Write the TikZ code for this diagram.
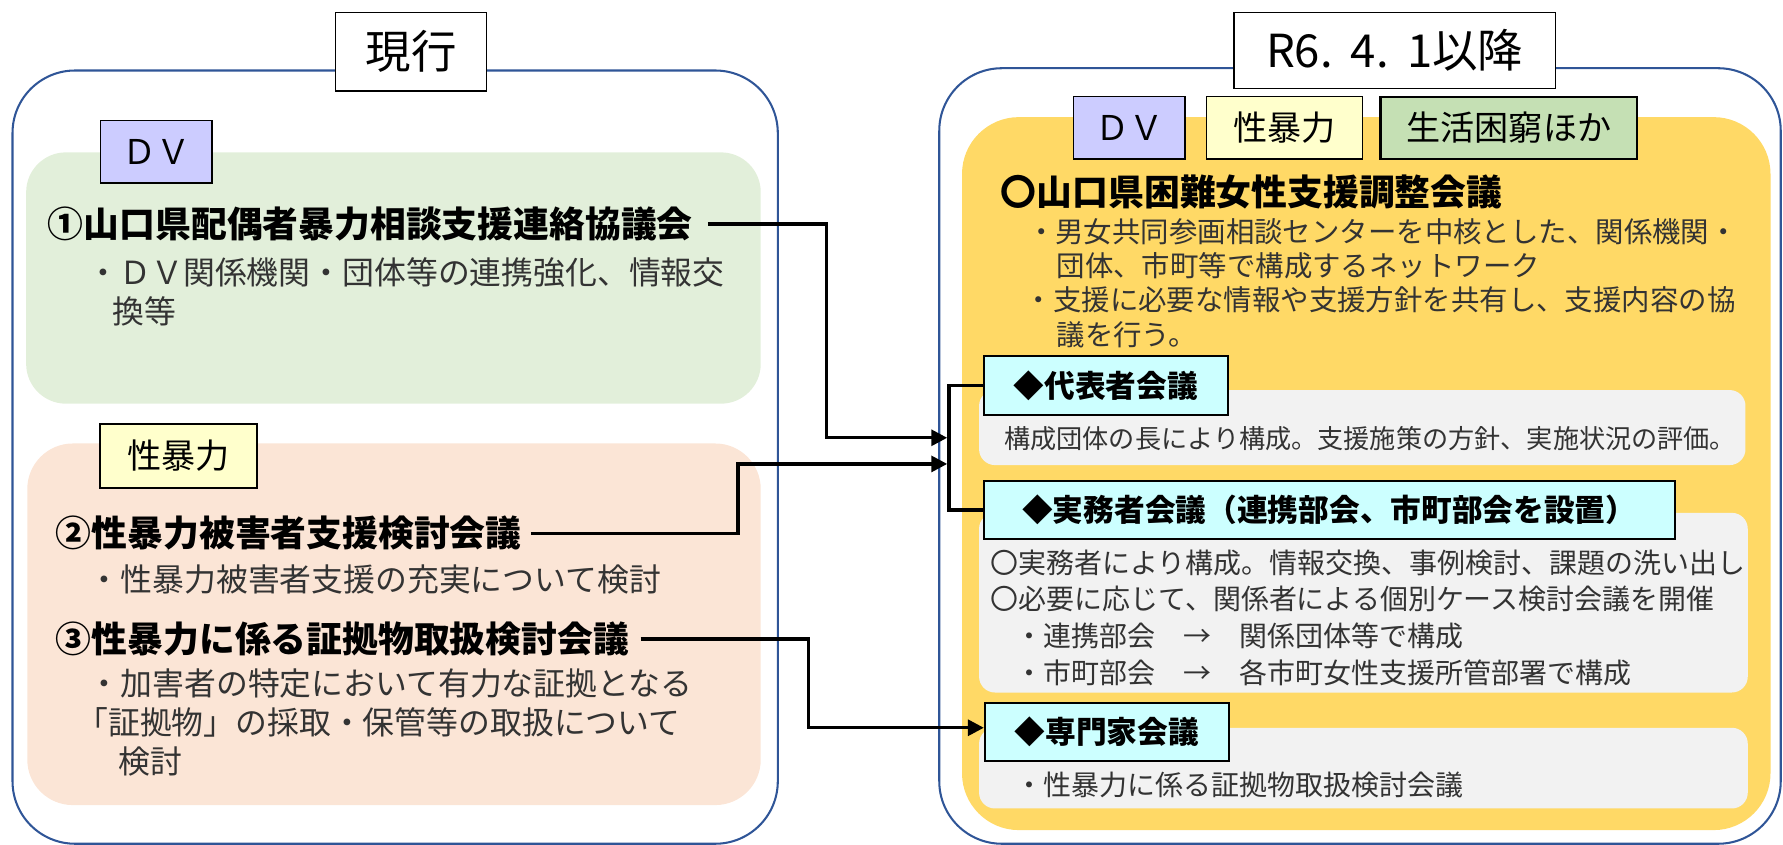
\documentclass[tikz,border=0pt]{standalone}
\usepackage{fontspec}
\setmainfont{Noto Sans CJK JP}
\usetikzlibrary{arrows.meta,calc}
\definecolor{outerblue}{HTML}{2F5597}
\definecolor{dvbg}{HTML}{E2EFDA}
\definecolor{sbbg}{HTML}{FBE5D6}
\definecolor{ylbg}{HTML}{FFD966}
\definecolor{graybg}{HTML}{F2F2F2}
\definecolor{tagdv}{HTML}{CCCCFF}
\definecolor{tagsb}{HTML}{FFFFCC}
\definecolor{taglife}{HTML}{C5E0B4}
\definecolor{tagcyan}{HTML}{CCFFFF}
\definecolor{txtgray}{HTML}{333333}
\begin{document}
\begin{tikzpicture}[x=1pt,y=-1pt,
  panel/.style={draw=outerblue,line width=1.8pt,rounded corners=55pt,inner sep=0pt},
  area/.style={rounded corners=#1,inner sep=0pt},
  ttl/.style={font=\fontsize{40}{44}\selectfont,draw=black,line width=1.3pt,fill=white,inner sep=0pt},
  tagbox/.style={font=\fontsize{30}{34}\selectfont,draw=black,line width=1.3pt,inner sep=0pt},
  mtag/.style={font=\bfseries\fontsize{27}{30}\selectfont,draw=black,line width=1.6pt,fill=tagcyan,inner sep=0pt},
  head/.style={font=\bfseries\fontsize{31.5}{36}\selectfont,anchor=west,inner sep=0pt},
  bodyL/.style={font=\fontsize{28}{32}\selectfont,text=txtgray,anchor=west,inner sep=0pt},
  bodyR/.style={font=\fontsize{#1}{#1}\selectfont,text=txtgray,anchor=west,inner sep=0pt},
  conn/.style={line width=2.9pt},
  arr/.style={conn,-{Triangle[length=14pt,width=14pt]}}
]
\useasboundingbox (0,0) rectangle (1568,743);

% panels
\node[panel,minimum width=673pt,minimum height=680pt] (Lpanel) at (347.5,402) {};
\node[panel,minimum width=740pt,minimum height=682pt] (Rpanel) at (1196,401) {};

% coloured areas
\node[area=35pt,fill=dvbg,minimum width=646pt,minimum height=221pt] (dvarea) at (346,244.5) {};
\node[area=40pt,fill=sbbg,minimum width=645pt,minimum height=318pt] (sbarea) at (346.5,549) {};
\node[area=50pt,fill=ylbg,minimum width=711pt,minimum height=627pt] (ylarea) at (1201.5,416.5) {};

% titles
\node[ttl,minimum width=133pt,minimum height=69pt] (genko) at (361.5,45.5) {現行};
\node[ttl,minimum width=283pt,minimum height=67pt] (ikou) at (1226.5,44.5) {R6.\hspace{0.4em}4.\hspace{0.4em}1以降};

% tags left
\node[tagbox,fill=tagdv,minimum width=98pt,minimum height=55pt] (tagDVl) at (137.5,133.5) {ＤＶ};
\node[tagbox,fill=tagsb,minimum width=138pt,minimum height=56pt] (tagSBl) at (157,401) {性暴力};

% tags right
\node[tagbox,fill=tagdv,minimum width=98pt,minimum height=55pt] (tagDVr) at (993,112.5) {ＤＶ};
\node[tagbox,fill=tagsb,minimum width=137pt,minimum height=55pt] (tagSBr) at (1129.5,112.5) {性暴力};
\node[tagbox,fill=taglife,line width=1.8pt,minimum width=226pt,minimum height=55pt] (tagLife) at (1327,112.5) {生活困窮ほか};

% left texts
\node[head] (t1) at (42,197) {①山口県配偶者暴力相談支援連絡協議会};
\node[bodyL] (b1a) at (77,240) {・ＤＶ関係機関・団体等の連携強化、情報交};
\node[bodyL] (b1b) at (99,274) {換等};
\node[head] (t2) at (49,469) {②性暴力被害者支援検討会議};
\node[bodyL] (b2) at (78,510) {・性暴力被害者支援の充実について検討};
\node[head] (t3) at (49,562) {③性暴力に係る証拠物取扱検討会議};
\node[bodyL] (b3a) at (78,601) {・加害者の特定において有力な証拠となる};
\node[bodyL] (b3b) at (67,635) {「証拠物」の採取・保管等の取扱について};
\node[bodyL] (b3c) at (104,670) {検討};

% right texts
\node[head] (t4) at (880,169) {〇山口県困難女性支援調整会議};
\node[bodyR=25] (r1) at (903,204) {・男女共同参画相談センターを中核とした、関係機関・};
\node[bodyR=25] (r2) at (929,234) {団体、市町等で構成するネットワーク};
\node[bodyR=25] (r3) at (901,264) {・支援に必要な情報や支援方針を共有し、支援内容の協};
\node[bodyR=25] (r4) at (929,294) {議を行う。};

% gray boxes
\node[area=14pt,fill=graybg,minimum width=674pt,minimum height=66pt] (g1) at (1198,376) {};
\node[area=14pt,fill=graybg,minimum width=676pt,minimum height=158pt] (g2) at (1199,530) {};
\node[area=14pt,fill=graybg,minimum width=676pt,minimum height=71pt] (g3) at (1199,675.5) {};

% meeting tags
\node[mtag,minimum width=215pt,minimum height=52pt] (daihyo) at (972.5,339) {◆代表者会議};
\node[mtag,minimum width=608pt,minimum height=51pt] (jitsumu) at (1169,448.5) {◆実務者会議（連携部会、市町部会を設置）};
\node[mtag,minimum width=215pt,minimum height=51pt] (senmon) at (973.5,643.5) {◆専門家会議};

\node[bodyR=23] (d1) at (883,386) {構成団体の長により構成。支援施策の方針、実施状況の評価。};
\node[bodyR=24.6] (j1) at (871,495) {〇実務者により構成。情報交換、事例検討、課題の洗い出し};
\node[bodyR=24.6] (j2) at (871,527) {〇必要に応じて、関係者による個別ケース検討会議を開催};
\node[bodyR=24.6] (j3) at (893,559) {・連携部会　→　関係団体等で構成};
\node[bodyR=24.6] (j4) at (893,592) {・市町部会　→　各市町女性支援所管部署で構成};
\node[bodyR=24.6] (s1) at (893,690) {・性暴力に係る証拠物取扱検討会議};

% connectors
\coordinate (hubA) at (833,385);
\coordinate (hubB) at (833,408);
\draw[arr] ([xshift=13pt]t1.east) -| (727,385) -- (hubA);
\draw[arr] ([xshift=8pt]t2.east) -| (649,408) -- (hubB);
\draw[arr] ([xshift=10pt]t3.east) -| ($(senmon.west)+(-154,-3.5)$) -- ($(senmon.west)+(0,-3.5)$);
\draw[conn,line width=3.4pt] (daihyo.west) -- ++(-30,0) |- (jitsumu.west);
\end{tikzpicture}
\end{document}
